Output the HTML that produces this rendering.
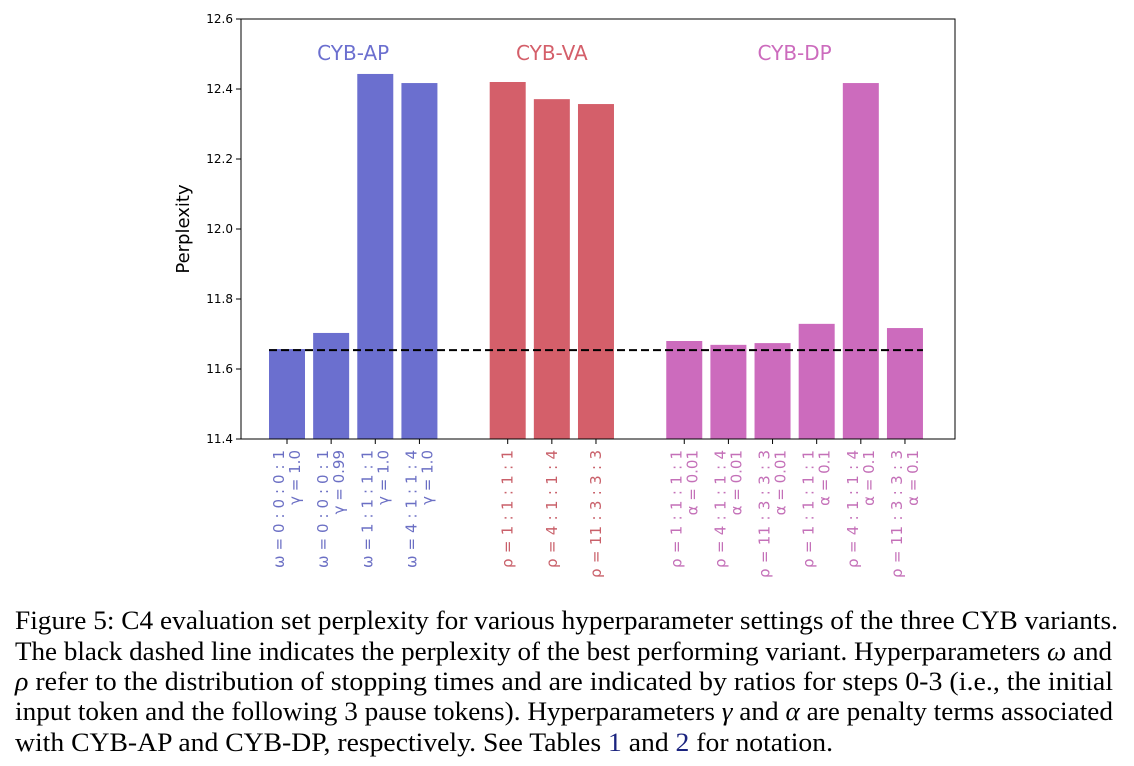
<!DOCTYPE html>
<html><head><meta charset="utf-8"><style>
body{margin:0;background:#fff;}
svg{display:block;}
.cap{font-family:"Liberation Serif",serif;font-size:26px;fill:#000;}
</style></head><body>
<svg width="1134" height="766" xmlns="http://www.w3.org/2000/svg">
<g id="plot"></g>
<g>
<text class="cap" x="15" y="629" textLength="1103" lengthAdjust="spacingAndGlyphs">Figure 5: C4 evaluation set perplexity for various hyperparameter settings of the three CYB variants.</text>
<text class="cap" x="15" y="660" textLength="1097" lengthAdjust="spacingAndGlyphs">The black dashed line indicates the perplexity of the best performing variant. Hyperparameters <tspan font-style="italic">ω</tspan> and</text>
<text class="cap" x="15" y="690" textLength="1098" lengthAdjust="spacingAndGlyphs"><tspan font-style="italic">ρ</tspan> refer to the distribution of stopping times and are indicated by ratios for steps 0-3 (i.e., the initial</text>
<text class="cap" x="15" y="720" textLength="1098" lengthAdjust="spacingAndGlyphs">input token and the following 3 pause tokens). Hyperparameters <tspan font-style="italic">γ</tspan> and <tspan font-style="italic">α</tspan> are penalty terms associated</text>
<text class="cap" x="15" y="751" textLength="818" lengthAdjust="spacingAndGlyphs">with CYB-AP and CYB-DP, respectively. See Tables <tspan fill="#1a237e">1</tspan> and <tspan fill="#1a237e">2</tspan> for notation.</text>
</g>
</svg>
<script>
const values = [11.657, 11.703, 12.443, 12.417, 12.42, 12.371, 12.357, 11.68, 11.669, 11.674, 11.729, 12.417, 11.717];
const slots = [0, 1, 2, 3, 5, 6, 7, 9, 10, 11, 12, 13, 14];
const groups = [0, 0, 0, 0, 1, 1, 1, 2, 2, 2, 2, 2, 2];
const line1 = ["ω = 0 : 0 : 0 : 1","ω = 0 : 0 : 0 : 1","ω = 1 : 1 : 1 : 1","ω = 4 : 1 : 1 : 4","ρ = 1 : 1 : 1 : 1","ρ = 4 : 1 : 1 : 4","ρ = 11 : 3 : 3 : 3","ρ = 1 : 1 : 1 : 1","ρ = 4 : 1 : 1 : 4","ρ = 11 : 3 : 3 : 3","ρ = 1 : 1 : 1 : 1","ρ = 4 : 1 : 1 : 4","ρ = 11 : 3 : 3 : 3"];
const line2 = ["γ = 1.0","γ = 0.99","γ = 1.0","γ = 1.0","","","","α = 0.01","α = 0.01","α = 0.01","α = 0.1","α = 0.1","α = 0.1"];
const groupNames = ["CYB-AP","CYB-VA","CYB-DP"];
const groupSlots = [1.5, 6, 11.5];
const yTicks = [11.4, 11.6, 11.8, 12.0, 12.2, 12.4, 12.6];
const bestValue = 11.654;

const NS="http://www.w3.org/2000/svg";
const g=document.getElementById('plot');
const colors=["#6b6fcf","#d45f6a","#cc6bbd"];
const tcolors=["#6b6fc4","#c9606a","#c470b8"];
const L=241,R=955,T=19,B=439, ymin=11.4,ymax=12.6;
const y=v=>B-(v-ymin)/(ymax-ymin)*(B-T);
const x=s=>287+s*44.14;
function el(t,a,p){const e=document.createElementNS(NS,t);for(const k in a)e.setAttribute(k,a[k]);(p||g).appendChild(e);return e;}
values.forEach((v,i)=>{
 const r=el('rect',{x:x(slots[i])-18,y:y(v),width:36,height:B-y(v),fill:colors[groups[i]]});
 
 
 el('line',{x1:x(slots[i]),x2:x(slots[i]),y1:B,y2:B+5,stroke:'#000','stroke-width':1});
 const two=line2[i]!=="";
 const cx=x(slots[i]);
 const len=line1[i].length>17?128:118;
 const t=el('text',{transform:`translate(${two?cx-3:cx+5},450) rotate(-90)`,'text-anchor':'end','font-family':'"DejaVu Sans",sans-serif','font-size':'15',fill:tcolors[groups[i]],textLength:len,lengthAdjust:'spacing'});
 t.textContent=line1[i];
 
 
 if(two){
  const t2=el('text',{transform:`translate(${cx+13},450) rotate(-90)`,'text-anchor':'end','font-family':'"DejaVu Sans",sans-serif','font-size':'15',fill:tcolors[groups[i]]});
  t2.textContent=line2[i];
  
  
 }
});
groupNames.forEach((n,i)=>{
 const t=el('text',{x:x(groupSlots[i]),y:60,'text-anchor':'middle','font-family':'"DejaVu Sans",sans-serif','font-size':'20',fill:colors[i]});
 t.textContent=n;
 
 
});
const dl=el('line',{x1:x(0)-18,x2:x(14)+18,y1:y(bestValue),y2:y(bestValue),stroke:'#000','stroke-width':2,'stroke-dasharray':'8,4'});


yTicks.forEach(v=>{
 el('line',{x1:L-5,x2:L,y1:y(v),y2:y(v),stroke:'#000'});
 const t=el('text',{x:L-8,y:y(v)+4,'text-anchor':'end','font-family':'"DejaVu Sans",sans-serif','font-size':'12',fill:'#000'});
 t.textContent=v.toFixed(1);
 
 
});
const fr=el('rect',{x:L,y:T,width:R-L,height:B-T,fill:'none',stroke:'#000','stroke-width':1});


const yt=el('text',{transform:'translate(189,229) rotate(-90)','text-anchor':'middle','font-family':'"DejaVu Sans",sans-serif','font-size':'18',fill:'#000'});
yt.textContent='Perplexity';


</script>
</body></html>
